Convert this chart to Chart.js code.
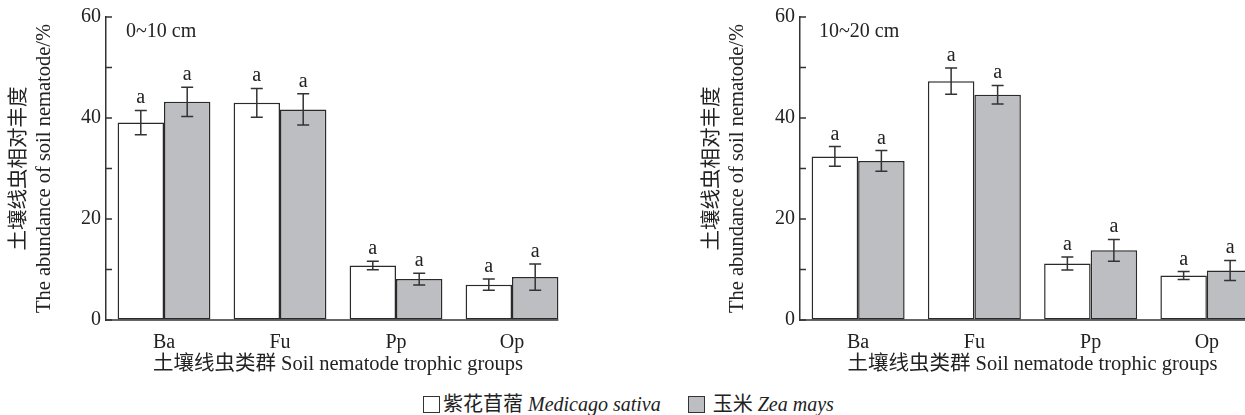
<script src="https://cdn.jsdelivr.net/npm/chart.js"></script>
<style>
    body { margin: 0; background: #fff; }
    .page { position: relative; width: 1245px; height: 415px; overflow: hidden; }
    #leftChart { position: absolute; left: 0; top: 0; }
    #rightChart { position: absolute; left: 700px; top: 0; }
    .legend {
        position: absolute; left: 423px; top: 393px;
        font-family: "Liberation Serif", "Noto Sans CJK SC", serif;
        font-size: 20px; color: #222; white-space: nowrap; line-height: 22px;
    }
    .legend .box {
        display: inline-block; width: 15px; height: 15px;
        border: 1.5px solid #333; vertical-align: -2px; margin-right: 3px;
    }
    .legend i { font-style: italic; }
</style>
<div class="page">
    <canvas id="leftChart" width="700" height="390"></canvas>
    <canvas id="rightChart" width="600" height="390"></canvas>
    <div class="legend">
        <span class="box" style="background:#fff"></span>紫花苜蓿 <i>Medicago sativa</i>
        <span class="box" style="background:#bdbec2; margin-left:22px"></span> 玉米 <i>Zea mays</i>
    </div>
</div>

<script>
    // trophic groups
    var groups = ['Ba', 'Fu', 'Pp', 'Op'];
    var seriesNames = ['紫花苜蓿 Medicago sativa', '玉米 Zea mays'];

    // 0~10 cm
    var alfalfa010 = [39.1, 43.0, 10.8, 7.0];
    var alfalfa010Err = [2.4, 2.85, 0.85, 1.1];
    var maize010 = [43.2, 41.7, 8.1, 8.5];
    var maize010Err = [2.9, 3.1, 1.15, 2.6];

    // 10~20 cm
    var alfalfa1020 = [32.4, 47.3, 11.2, 8.8];
    var alfalfa1020Err = [1.95, 2.6, 1.3, 0.8];
    var maize1020 = [31.5, 44.6, 13.8, 9.8];
    var maize1020Err = [2.05, 1.85, 2.15, 2.0];

    var letters = ['a', 'a', 'a', 'a'];
    var yTicks = [0, 10, 20, 30, 40, 50, 60];

    var serif = '"Liberation Serif", "Noto Sans CJK SC", serif';
    var ink = '#222';

    // error bars + significance letters + inward ticks + x axis line + panel label
    var extras = {
        id: 'extras',
        afterDatasetsDraw: function(chart, args, opts) {
            var ctx = chart.ctx;
            var y = chart.scales.y;
            var area = chart.chartArea;
            ctx.save();
            ctx.strokeStyle = '#333';
            ctx.lineWidth = 1.5;
            ctx.fillStyle = ink;
            ctx.font = '20px ' + serif;
            ctx.textAlign = 'center';
            ctx.textBaseline = 'alphabetic';
            chart.data.datasets.forEach(function(ds, i) {
                var meta = chart.getDatasetMeta(i);
                meta.data.forEach(function(bar, j) {
                    var v = ds.data[j];
                    var e = opts.errors[i][j];
                    var top = y.getPixelForValue(v + e);
                    var bot = y.getPixelForValue(v - e);
                    ctx.beginPath();
                    ctx.moveTo(bar.x, top); ctx.lineTo(bar.x, bot);
                    ctx.moveTo(bar.x - 6, top); ctx.lineTo(bar.x + 6, top);
                    ctx.moveTo(bar.x - 6, bot); ctx.lineTo(bar.x + 6, bot);
                    ctx.stroke();
                    ctx.fillText(opts.letters[i][j], bar.x, top - 7);
                });
            });

            // x axis line ends at the last bar
            var lastMeta = chart.getDatasetMeta(chart.data.datasets.length - 1);
            var lastBar = lastMeta.data[lastMeta.data.length - 1];
            ctx.beginPath();
            ctx.moveTo(area.left, area.bottom);
            ctx.lineTo(lastBar.x + lastBar.width / 2, area.bottom);
            ctx.stroke();

            // inward y ticks
            ctx.beginPath();
            yTicks.forEach(function(t) {
                var py = y.getPixelForValue(t);
                ctx.moveTo(area.left, py);
                ctx.lineTo(area.left + 6, py);
            });
            ctx.stroke();

            // panel label
            ctx.textAlign = 'left';
            ctx.textBaseline = 'middle';
            ctx.fillText(opts.label, area.left + opts.labelDx, area.top + 15);
            ctx.restore();
        }
    };

    function makeChart(id, label, a, aErr, m, mErr, opt) {
        var ctx = document.getElementById(id).getContext('2d');
        return new Chart(ctx, {
            type: 'bar',
            data: {
                labels: groups,
                datasets: [{
                    label: seriesNames[0],
                    data: a,
                    backgroundColor: '#ffffff',
                    borderColor: '#2a2a2a',
                    borderWidth: 1.5,
                    borderSkipped: false,
                    categoryPercentage: 0.8,
                    barPercentage: 1.0
                }, {
                    label: seriesNames[1],
                    data: m,
                    backgroundColor: '#bdbec2',
                    borderColor: '#2a2a2a',
                    borderWidth: 1.5,
                    borderSkipped: false,
                    categoryPercentage: 0.8,
                    barPercentage: 1.0
                }]
            },
            options: {
                responsive: false,
                animation: false,
                devicePixelRatio: 1,
                layout: { padding: { top: 16, right: opt.padRight, bottom: 0, left: 0 } },
                plugins: {
                    legend: { display: false },
                    tooltip: { enabled: false },
                    extras: {
                        errors: [aErr, mErr],
                        letters: [letters, letters],
                        label: label,
                        labelDx: opt.labelDx
                    }
                },
                scales: {
                    x: {
                        afterFit: function(s) { s.height = 70; },
                        grid: { display: false },
                        border: { display: false },
                        ticks: { color: ink, padding: 3, font: { family: serif, size: 20 } },
                        title: {
                            display: true,
                            text: '土壤线虫类群 Soil nematode trophic groups',
                            color: ink,
                            font: { family: serif, size: 20.5, lineHeight: 1.2 },
                            padding: { top: 0, bottom: 13 }
                        }
                    },
                    y: {
                        min: 0,
                        max: 60,
                        afterFit: function(s) { s.width = opt.yWidth; },
                        grid: { drawOnChartArea: false, drawTicks: false },
                        border: { display: true, color: '#333', width: 1.5 },
                        ticks: { stepSize: 20, color: ink, padding: 5, font: { family: serif, size: 20 } },
                        title: {
                            display: true,
                            text: ['土壤线虫相对丰度', 'The abundance of soil nematode/%'],
                            color: ink,
                            font: { family: serif, size: 20.5, lineHeight: 1.22 },
                            padding: { top: opt.titlePad, bottom: 0 }
                        }
                    }
                }
            },
            plugins: [extras]
        });
    }

    makeChart('leftChart', '0~10 cm', alfalfa010, alfalfa010Err, maize010, maize010Err,
        { padRight: 130, yWidth: 106, titlePad: 7.5, labelDx: 20 });
    makeChart('rightChart', '10~20 cm', alfalfa1020, alfalfa1020Err, maize1020, maize1020Err,
        { padRight: 35, yWidth: 100, titlePad: 0.5, labelDx: 19 });
</script>
